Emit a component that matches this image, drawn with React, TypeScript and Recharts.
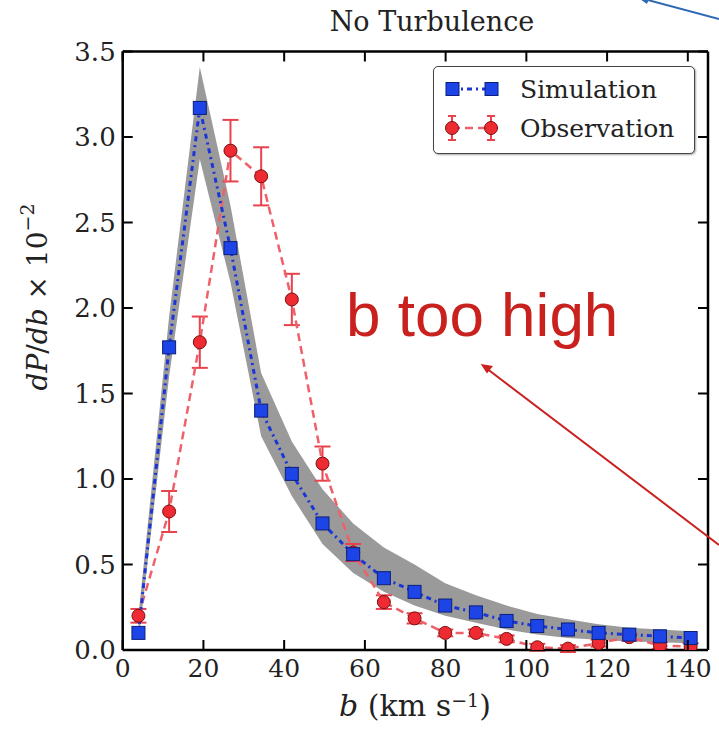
import React from 'react';
import { ComposedChart, Area, Line, XAxis, YAxis, ErrorBar, Legend } from 'recharts';

const SERIF = '"DejaVu Serif", serif';

// b (km/s) bin centres
const bValues = [3.9, 11.5, 19.1, 26.7, 34.3, 41.9, 49.5, 57.1, 64.7, 72.3, 79.9, 87.5, 95.1, 102.7, 110.3, 117.9, 125.5, 133.1, 140.7];
const simulation = [0.1, 1.77, 3.17, 2.35, 1.4, 1.03, 0.74, 0.56, 0.42, 0.34, 0.26, 0.22, 0.17, 0.14, 0.12, 0.1, 0.09, 0.08, 0.07];
const simLow = [0.05, 1.6, 2.87, 2.15, 1.25, 0.9, 0.62, 0.45, 0.34, 0.26, 0.2, 0.16, 0.12, 0.09, 0.07, 0.06, 0.05, 0.045, 0.04];
const simHigh = [0.2, 1.95, 3.41, 2.6, 1.62, 1.22, 0.94, 0.74, 0.6, 0.5, 0.39, 0.32, 0.26, 0.21, 0.18, 0.15, 0.13, 0.12, 0.11];
const observation = [0.2, 0.81, 1.8, 2.92, 2.77, 2.05, 1.09, 0.57, 0.28, 0.185, 0.1, 0.1, 0.065, 0.016, 0.008, 0.04, 0.075, 0.025, 0.02];
const observationErr = [0.04, 0.12, 0.15, 0.18, 0.17, 0.15, 0.1, 0.05, 0.04, 0.03, 0.02, 0.02, 0.02, 0.02, 0.02, 0.02, 0.02, 0.02, 0.02];

const xTicks = [0, 20, 40, 60, 80, 100, 120, 140];
const yTicks = [0, 0.5, 1, 1.5, 2, 2.5, 3, 3.5];

const data = bValues.map((b, i) => ({
  b,
  sim: simulation[i],
  band: [simLow[i], simHigh[i]],
  obs: observation[i],
  obsErr: observationErr[i],
}));

const BottomTick = (props: any) => {
  const { x, y, payload } = props;
  return (
    <g>
      <line x1={x} x2={x} y1={y} y2={y - 10} stroke="#000" strokeWidth={2} />
      <text x={x} y={y + 27} textAnchor="middle" fontFamily={SERIF} fontSize={25} fill="#222">
        {payload.value}
      </text>
    </g>
  );
};

const TopTick = (props: any) => {
  const { x, y } = props;
  return <line x1={x} x2={x} y1={y} y2={y + 10} stroke="#000" strokeWidth={2} />;
};

const LeftTick = (props: any) => {
  const { x, y, payload } = props;
  return (
    <g>
      <line x1={x} x2={x + 10} y1={y} y2={y} stroke="#000" strokeWidth={2} />
      <text x={x - 7} y={y + 9} textAnchor="end" fontFamily={SERIF} fontSize={26} fill="#222">
        {Number(payload.value).toFixed(1)}
      </text>
    </g>
  );
};

const RightTick = (props: any) => {
  const { x, y } = props;
  return <line x1={x} x2={x - 10} y1={y} y2={y} stroke="#000" strokeWidth={2} />;
};

const SquareDot = (props: any) => {
  const { cx, cy, index } = props;
  if (cx == null || cy == null) return null;
  return <rect key={`sq-${index}`} x={cx - 6.5} y={cy - 6.5} width={13} height={13} fill="#1d44e6" stroke="#0b1f7a" strokeWidth={1} />;
};

const CircleDot = (props: any) => {
  const { cx, cy, index } = props;
  if (cx == null || cy == null) return null;
  return <circle key={`ci-${index}`} cx={cx} cy={cy} r={6.5} fill="#ee2a33" stroke="#7a1010" strokeWidth={1} />;
};

const LegendBox = (props: any) => {
  const order = ['sim', 'obs'];
  const items = (props.payload || [])
    .filter((p: any) => order.includes(p.dataKey))
    .sort((a: any, b: any) => order.indexOf(a.dataKey) - order.indexOf(b.dataKey));
  return (
    <div
      style={{
        width: 262,
        height: 88,
        border: '1px solid #444',
        borderRadius: 5,
        background: '#fff',
        boxShadow: '1px 1px 2px rgba(0,0,0,0.35)',
        boxSizing: 'border-box',
      }}
    >
      <svg width={260} height={86}>
        {items.map((item: any, i: number) => {
          const y = 22 + i * 39;
          const isSim = item.dataKey === 'sim';
          return (
            <g key={item.dataKey}>
              {isSim ? (
                <>
                  <line x1={18} x2={57} y1={y} y2={y} stroke="#1a35d8" strokeWidth={3} strokeDasharray="5 4 2 4" />
                  <rect x={12} y={y - 6.5} width={13} height={13} fill="#1d44e6" stroke="#0b1f7a" />
                  <rect x={51} y={y - 6.5} width={13} height={13} fill="#1d44e6" stroke="#0b1f7a" />
                </>
              ) : (
                <>
                  <line x1={18} x2={57} y1={y} y2={y} stroke="#f0606a" strokeWidth={2.5} strokeDasharray="8 5" />
                  {[18, 57].map((cx) => (
                    <g key={cx}>
                      <line x1={cx} x2={cx} y1={y - 12} y2={y + 12} stroke="#e8424c" strokeWidth={2} />
                      <line x1={cx - 4} x2={cx + 4} y1={y - 12} y2={y - 12} stroke="#e8424c" strokeWidth={2} />
                      <line x1={cx - 4} x2={cx + 4} y1={y + 12} y2={y + 12} stroke="#e8424c" strokeWidth={2} />
                      <circle cx={cx} cy={y} r={6.5} fill="#ee2a33" stroke="#7a1010" />
                    </g>
                  ))}
                </>
              )}
              <text x={86} y={y + 9} fontFamily={SERIF} fontSize={25} fill="#222">
                {item.value}
              </text>
            </g>
          );
        })}
      </svg>
    </div>
  );
};

export default function App() {
  return (
    <div style={{ position: 'absolute', left: 0, top: 0, width: 719, height: 740, background: '#fff' }}>
      <ComposedChart width={719} height={740} data={data} margin={{ top: 31.5, right: 0, bottom: 0, left: 62.7 }}>
        <XAxis
          dataKey="b"
          type="number"
          domain={[0, 145]}
          ticks={xTicks}
          height={90}
          tickSize={0}
          tickMargin={0}
          tickLine={false}
          tick={<BottomTick />}
          axisLine={{ stroke: '#000', strokeWidth: 2.5 }}
          allowDataOverflow
        />
        <XAxis
          xAxisId="top"
          orientation="top"
          dataKey="b"
          type="number"
          domain={[0, 145]}
          ticks={xTicks}
          height={20}
          tickSize={0}
          tickMargin={0}
          tickLine={false}
          tick={<TopTick />}
          axisLine={{ stroke: '#000', strokeWidth: 2.5 }}
          allowDataOverflow
        />
        <YAxis
          type="number"
          domain={[0, 3.5]}
          ticks={yTicks}
          width={60}
          tickSize={0}
          tickMargin={0}
          tickLine={false}
          tick={<LeftTick />}
          axisLine={{ stroke: '#000', strokeWidth: 2.5 }}
          allowDataOverflow
        />
        <YAxis
          yAxisId="right"
          orientation="right"
          type="number"
          domain={[0, 3.5]}
          ticks={yTicks}
          width={11}
          tickSize={0}
          tickMargin={0}
          tickLine={false}
          tick={<RightTick />}
          axisLine={{ stroke: '#000', strokeWidth: 2.5 }}
          allowDataOverflow
        />
        <Area
          dataKey="band"
          type="linear"
          fill="#9a9a9a"
          fillOpacity={1}
          stroke="none"
          legendType="none"
          isAnimationActive={false}
        />
        <Line
          dataKey="obs"
          name="Observation"
          type="linear"
          stroke="#f0606a"
          strokeWidth={2.5}
          strokeDasharray="8 5"
          dot={<CircleDot />}
          activeDot={false}
          isAnimationActive={false}
        >
          <ErrorBar dataKey="obsErr" direction="y" width={8} stroke="#e8424c" strokeWidth={2} />
        </Line>
        <Line
          dataKey="sim"
          name="Simulation"
          type="linear"
          stroke="#1a35d8"
          strokeWidth={3}
          strokeDasharray="5 4 2 4"
          dot={<SquareDot />}
          activeDot={false}
          isAnimationActive={false}
        />
        <Legend
          layout="horizontal"
          verticalAlign="middle"
          align="center"
          width={262}
          height={88}
          wrapperStyle={{ left: 433, top: 66, width: 262, height: 88 }}
          content={<LegendBox />}
        />
        <text x={432} y={31} textAnchor="middle" fontFamily={SERIF} fontSize={27} fill="#222">
          No Turbulence
        </text>
        <text
          x={37}
          y={297}
          transform="rotate(-90 37 297)"
          textAnchor="middle"
          dominantBaseline="central"
          fontFamily={SERIF}
          fontSize={28}
          fill="#222"
        >
          <tspan fontStyle="italic">dP</tspan>
          <tspan>/</tspan>
          <tspan fontStyle="italic">db</tspan>
          <tspan> × 10</tspan>
          <tspan dy={-10} fontSize={19}>−2</tspan>
        </text>
        <text x={415} y={716} textAnchor="middle" fontFamily={SERIF} fontSize={30} fill="#222">
          <tspan fontStyle="italic">b</tspan>
          <tspan> (km s</tspan>
          <tspan dy={-9} fontSize={19}>−1</tspan>
          <tspan dy={9}>)</tspan>
        </text>
      </ComposedChart>
      <svg width={719} height={740} style={{ position: 'absolute', left: 0, top: 0, pointerEvents: 'none' }}>
        <text x={346} y={336} fontFamily='"Liberation Sans", Arial, sans-serif' fontSize={62} fill="#c9211e">
          b too high
        </text>
        <line x1={719} y1={545} x2={486} y2={368} stroke="#c9211e" strokeWidth={2} />
        <polygon points="480.7,364 493,366 487,373.5" fill="#c9211e" />
        <line x1={719} y1={19} x2={644} y2={-1} stroke="#2e69b3" strokeWidth={2} />
        <polygon points="637,-3 650,-4 647,4" fill="#2e69b3" />
      </svg>
    </div>
  );
}
